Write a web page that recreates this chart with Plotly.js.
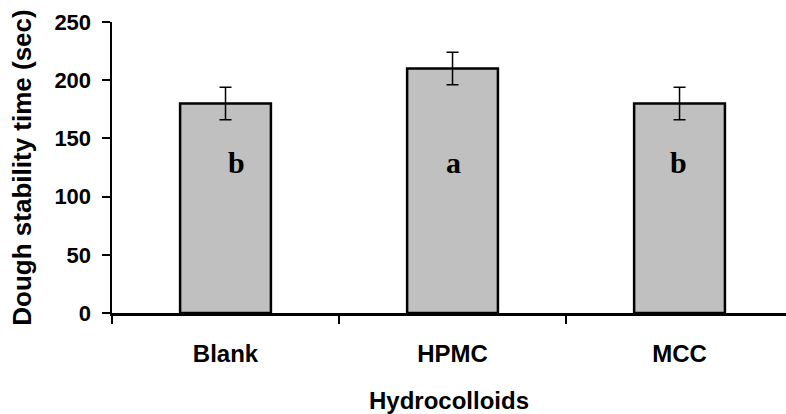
<!DOCTYPE html>
<html>
<head>
<meta charset="utf-8">
<script src="https://cdn.plot.ly/plotly-3.0.1.min.js"></script>
<style>html,body{margin:0;padding:0;background:#fff;}#chart{width:786px;height:414px;}</style>
</head>
<body>
<div id="chart"></div>
<script>
const categories = ["Blank", "HPMC", "MCC"];
const values = [180, 210, 180];
const errors = [14, 14, 14];
const letters = ["b", "a", "b"];
const letterY = [129, 129, 129];
const letterShift = [11, 1, -1];

const trace = {
  type: "bar",
  x: categories,
  y: values,
  width: 0.4,
  marker: {color: "#c0c0c0", line: {color: "#000", width: 2.5}},
  error_y: {type: "data", array: errors, visible: true, color: "#000", thickness: 1.5, width: 6},
  hoverinfo: "none"
};

const annotations = categories.map((c, i) => ({
  x: c, y: letterY[i], text: "<b>" + letters[i] + "</b>", showarrow: false,
  xshift: letterShift[i], yanchor: "middle",
  font: {family: "Liberation Serif, Times New Roman, serif", size: 30, color: "#000"}
}));

const layout = {
  width: 786, height: 414,
  margin: {l: 112, r: 0, t: 22, b: 101},
  paper_bgcolor: "#fff", plot_bgcolor: "#fff",
  showlegend: false,
  font: {family: "Liberation Sans, Arial, sans-serif", color: "#000"},
  xaxis: {
    type: "category", range: [-0.5, 2.469],
    showline: true, linecolor: "#000", linewidth: 2.5,
    ticks: "outside", tickson: "boundaries", ticklen: 8, tickwidth: 2, tickcolor: "#000",
    ticklabelstandoff: 18,
    tickfont: {size: 24, family: "Liberation Sans, Arial, sans-serif", weight: "bold"},
    showgrid: false, zeroline: false,
    title: {text: "<b>Hydrocolloids</b>", font: {size: 24}, standoff: 27}
  },
  yaxis: {
    range: [0, 250], tickvals: [0, 50, 100, 150, 200, 250],
    showline: true, linecolor: "#000", linewidth: 2.5,
    ticks: "outside", ticklen: 8, tickwidth: 2, tickcolor: "#000",
    ticklabelstandoff: 6,
    tickfont: {size: 22, family: "Liberation Sans, Arial, sans-serif", weight: "bold"},
    showgrid: false, zeroline: false,
    title: {text: "<b>Dough stability time (sec)</b>", font: {size: 26}, standoff: 16}
  },
  annotations: annotations
};

Plotly.newPlot("chart", [trace], layout, {staticPlot: true, displayModeBar: false});
</script>
</body>
</html>
